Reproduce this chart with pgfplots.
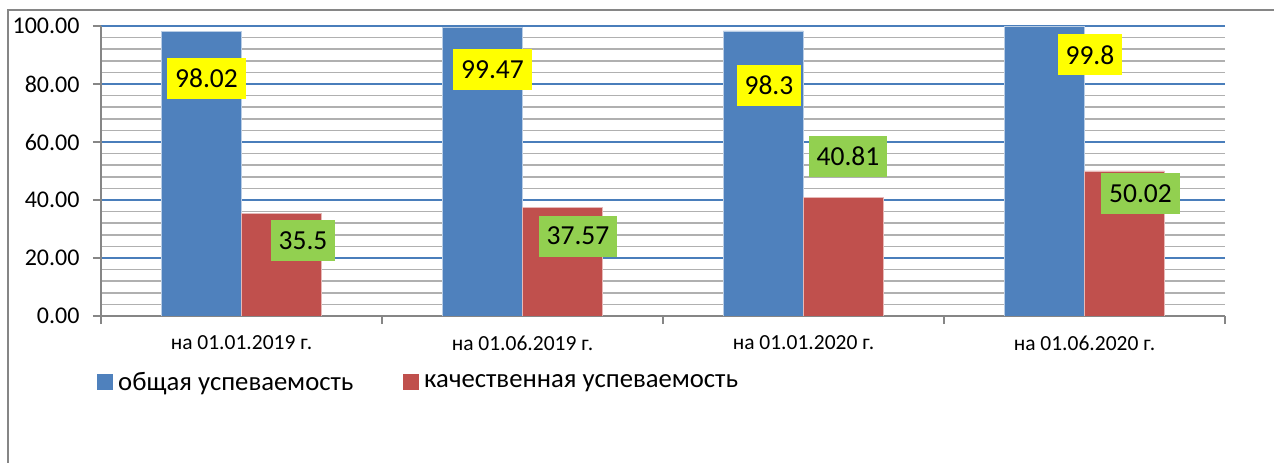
\documentclass[border=0pt]{standalone}
\usepackage{pgfplots}
\pgfplotsset{compat=1.18}
\usepackage{pgfplotstable}
\usepackage{fontspec}
\setmainfont{Carlito}
\definecolor{barblue}{HTML}{4F81BD}
\definecolor{barred}{HTML}{C0504D}
\definecolor{lblyellow}{HTML}{FFFF00}
\definecolor{lblgreen}{HTML}{92D050}
\definecolor{gridblue}{HTML}{4A7EBB}
\definecolor{gridgray}{HTML}{B0B0B0}
\definecolor{axgray}{HTML}{868686}

\pgfplotstableread{
x y dx dy
0 98.02 5 -46.8
1 99.47 10 -42
2 98.3 5.5 -54.4
3 99.8 45.5 -28.4
}\tot
\pgfplotstableread{
x y dx dy
0 35.5 21.5 -27.3
1 37.57 15.5 -29
2 40.81 4.5 41.6
3 50.02 16 -22.6
}\qual

\begin{document}
\begin{tikzpicture}
\path[use as bounding box] (0,0) rectangle (1274bp,463bp);
\draw[axgray, line width=1.5bp] (8bp,0bp) -- (8bp,453bp) -- (1274bp,453bp);
\begin{axis}[
  at={(101bp,147bp)}, anchor=south west,
  scale only axis, width=1124bp, height=290bp,
  xmin=-0.5, xmax=3.5, ymin=0, ymax=100,
  ybar=0pt, bar width=80bp,
  axis x line*=bottom, axis y line*=left,
  axis line style={axgray, line width=1.5bp},
  ytick={0,20,...,100}, minor y tick num=4,
  ymajorgrids, yminorgrids,
  major grid style={gridblue, line width=1.5bp},
  minor grid style={gridgray, line width=1.6bp},
  tick align=outside, major tick length=8bp, minor tick length=0pt,
  tick style={axgray, line width=1.5bp},
  xtick={-0.5,0.5,1.5,2.5,3.5}, x tick label as interval,
  xticklabels={на 01.01.2019 г., на 01.06.2019 г., на 01.01.2020 г., на 01.06.2020 г.},
  /pgf/number format/assume math mode=true,
  yticklabel style={/pgf/number format/fixed, /pgf/number format/fixed zerofill, /pgf/number format/precision=2, font=\fontsize{24bp}{28bp}\selectfont, xshift=-10bp},
  xticklabel style={font=\fontsize{21.5bp}{26bp}\selectfont, yshift=-8bp},
  nodes near coords, nodes near coords align={center},
  visualization depends on={\thisrow{dx} \as \dx},
  visualization depends on={\thisrow{dy} \as \dy},
  every node near coord/.append style={anchor=center, text=black, font=\fontsize{27.5bp}{32bp}\selectfont, inner xsep=8bp, inner ysep=0pt, minimum height=41bp, xshift=\dx bp, yshift=\dy bp},
  legend columns=2,
  legend style={at={(axis description cs:-0.0033,-0.2276)}, anchor=west, draw=none, fill=none, inner sep=0pt, font=\fontsize{26.7bp}{31bp}\selectfont,
    /tikz/every odd column/.append style={column sep=3.5bp},
    /tikz/every even column/.append style={column sep=48bp}},
]
\addplot[fill=barblue, draw={rgb,255:red,185;green,205;blue,229}, line width=0.75bp,
  every node near coord/.append style={fill=lblyellow, draw=none},
  legend image code/.code={\fill[barblue] (0bp,-7.25bp) rectangle (14.5bp,7.25bp);}]
  table[x=x,y=y] {\tot};
\addplot[fill=barred, draw={rgb,255:red,230;green,185;blue,184}, line width=0.75bp,
  every node near coord/.append style={fill=lblgreen, draw=none},
  legend image code/.code={\fill[barred] (0bp,-7.25bp) rectangle (14.5bp,7.25bp);}]
  table[x=x,y=y] {\qual};
\legend{общая успеваемость, качественная успеваемость}
\end{axis}
\end{tikzpicture}
\end{document}
